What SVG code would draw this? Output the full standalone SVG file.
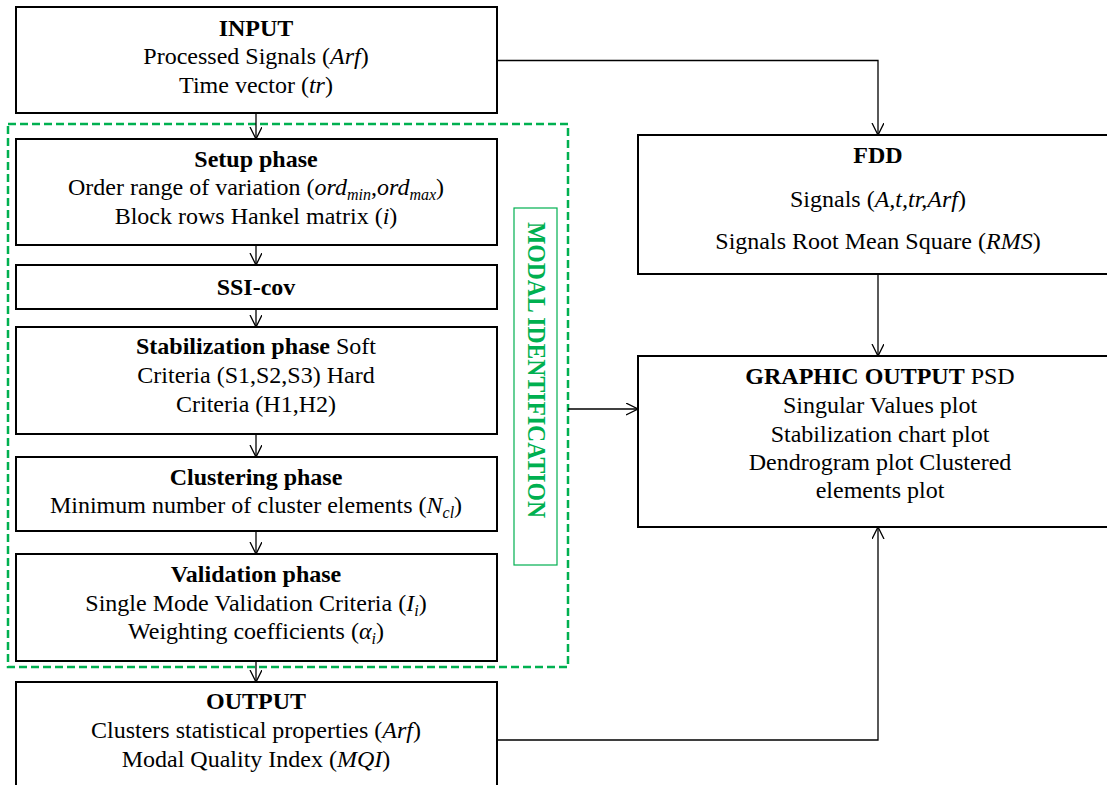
<svg xmlns="http://www.w3.org/2000/svg" width="1107" height="785" viewBox="0 0 1107 785">
<style>
.box{fill:#fff;stroke:#000;stroke-width:2}
.t{font-family:"Liberation Serif","Times New Roman",serif;font-size:24px;fill:#000;text-anchor:middle}
.b{font-weight:bold}
.i{font-style:italic}
.s{font-size:16px;font-style:italic}
.con{fill:none;stroke:#000;stroke-width:1.3}
.grp{fill:none;stroke:#00B050;stroke-width:2.5;stroke-dasharray:8,4}
.lab{fill:none;stroke:#00B050;stroke-width:1.2}
.labt{font-family:"Liberation Serif","Times New Roman",serif;font-size:25px;font-weight:bold;fill:#00B050}
</style>
<defs>
<marker id="arr" markerUnits="userSpaceOnUse" markerWidth="14" markerHeight="14" refX="12" refY="6" orient="auto">
<path d="M0,0 L12,6 L0,12" fill="none" stroke="#000" stroke-width="1.3"/>
</marker>
</defs>
<rect width="1107" height="785" fill="#fff"/>
<g id="modal-group">
<rect class="grp" x="8" y="124" width="560" height="543"/>
<rect class="lab" x="514" y="208" width="43" height="357"/>
<text class="labt" transform="translate(528,222) rotate(90)" textLength="296" lengthAdjust="spacingAndGlyphs">MODAL IDENTIFICATION</text>
</g>
<g id="connectors">
<path class="con" d="M256,113 V139" marker-end="url(#arr)"/>
<path class="con" d="M256,245 V265" marker-end="url(#arr)"/>
<path class="con" d="M256,309 V327" marker-end="url(#arr)"/>
<path class="con" d="M256,434 V457" marker-end="url(#arr)"/>
<path class="con" d="M256,531 V554" marker-end="url(#arr)"/>
<path class="con" d="M256,661 V682" marker-end="url(#arr)"/>
<path class="con" d="M497,60.5 H878 V135" marker-end="url(#arr)"/>
<path class="con" d="M878,274 V356" marker-end="url(#arr)"/>
<path class="con" d="M568,409 H638" marker-end="url(#arr)"/>
<path class="con" d="M497,740 H878 V527" marker-end="url(#arr)"/>
</g>
<g id="input">
<rect class="box" x="16" y="7" width="481" height="106"/>
<text class="t b" x="256" y="36">INPUT</text>
<text class="t" x="256" y="64">Processed Signals (<tspan class="i">Arf</tspan>)</text>
<text class="t" x="256" y="93">Time vector (<tspan class="i">tr</tspan>)</text>
</g>
<g id="setup">
<rect class="box" x="16" y="139" width="481" height="106"/>
<text class="t b" x="256" y="167">Setup phase</text>
<text class="t" x="256" y="195">Order range of variation (<tspan class="i">ord</tspan><tspan class="s" dy="5">min</tspan><tspan dy="-5">,</tspan><tspan class="i">ord</tspan><tspan class="s" dy="5">max</tspan><tspan dy="-5">)</tspan></text>
<text class="t" x="256" y="224">Block rows Hankel matrix (<tspan class="i">i</tspan>)</text>
</g>
<g id="ssi">
<rect class="box" x="16" y="265" width="481" height="44"/>
<text class="t b" x="256" y="295">SSI-cov</text>
</g>
<g id="stabilization">
<rect class="box" x="16" y="327" width="481" height="107"/>
<text class="t" x="256" y="354"><tspan class="b">Stabilization phase</tspan> Soft</text>
<text class="t" x="256" y="383">Criteria (S1,S2,S3) Hard</text>
<text class="t" x="256" y="412">Criteria (H1,H2)</text>
</g>
<g id="clustering">
<rect class="box" x="16" y="457" width="481" height="74"/>
<text class="t b" x="256" y="485">Clustering phase</text>
<text class="t" x="256" y="513">Minimum number of cluster elements (<tspan class="i">N</tspan><tspan class="s" dy="5">cl</tspan><tspan dy="-5">)</tspan></text>
</g>
<g id="validation">
<rect class="box" x="16" y="554" width="481" height="107"/>
<text class="t b" x="256" y="582">Validation phase</text>
<text class="t" x="256" y="611">Single Mode Validation Criteria (<tspan class="i">I</tspan><tspan class="s" dy="5">i</tspan><tspan dy="-5">)</tspan></text>
<text class="t" x="256" y="639">Weighting coefficients (<tspan class="i">α</tspan><tspan class="s" dy="5">i</tspan><tspan dy="-5">)</tspan></text>
</g>
<g id="output">
<rect class="box" x="16" y="682" width="481" height="120"/>
<text class="t b" x="256" y="709">OUTPUT</text>
<text class="t" x="256" y="738">Clusters statistical properties (<tspan class="i">Arf</tspan>)</text>
<text class="t" x="256" y="767">Modal Quality Index (<tspan class="i">MQI</tspan>)</text>
</g>
<g id="fdd">
<rect class="box" x="638" y="135" width="500" height="139"/>
<text class="t b" x="878" y="163">FDD</text>
<text class="t" x="878" y="207">Signals (<tspan class="i">A,t,tr,Arf</tspan>)</text>
<text class="t" x="878" y="249">Signals Root Mean Square (<tspan class="i">RMS</tspan>)</text>
</g>
<g id="graphic">
<rect class="box" x="638" y="356" width="500" height="171"/>
<text class="t" x="880" y="384"><tspan class="b">GRAPHIC OUTPUT</tspan> PSD</text>
<text class="t" x="880" y="413">Singular Values plot</text>
<text class="t" x="880" y="442">Stabilization chart plot</text>
<text class="t" x="880" y="470">Dendrogram plot Clustered</text>
<text class="t" x="880" y="498">elements plot</text>
</g>
</svg>
